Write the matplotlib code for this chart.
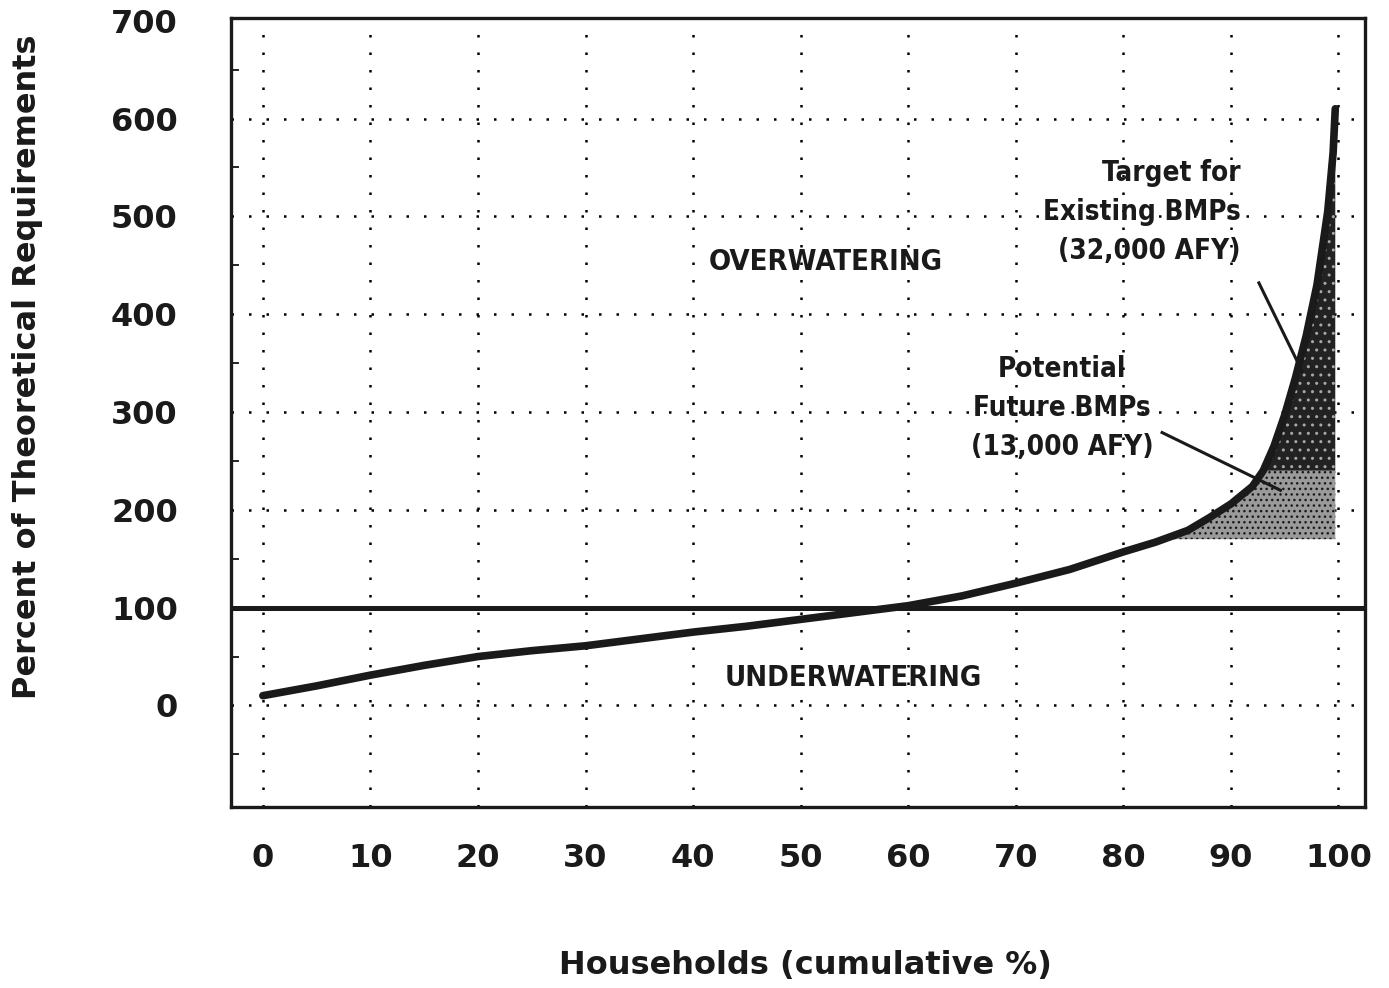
import matplotlib.pyplot as plt
import numpy as np

# data
households = [0, 5, 10, 15, 20, 25, 30, 35, 40, 45, 50, 55, 60, 65, 70, 75,
              80, 83, 86, 88, 90, 92, 93, 94, 95, 96, 97, 98, 99, 99.5, 99.7]
pct_req = [10, 20, 31, 41, 50, 56, 61, 68, 75, 81, 88, 95, 102, 112, 125, 139,
           157, 167, 179, 192, 206, 224, 240, 265, 297, 335, 378, 430, 505, 565, 610]

x_ticks = [0, 10, 20, 30, 40, 50, 60, 70, 80, 90, 100]
y_ticks = [0, 100, 200, 300, 400, 500, 600, 700]

future_low = 170     # bottom of "Potential Future BMPs" band
existing_low = 240   # bottom of "Target for Existing BMPs" band

hh = np.array(households, dtype=float)
pr = np.array(pct_req, dtype=float)

fig = plt.figure(figsize=(13.89, 9.88), dpi=100)
ax = fig.add_axes([0.166, 0.183, 0.817, 0.799])

ax.set_xlim(-3.0, 102.5)
ax.set_ylim(-104, 703)

# dotted grid
for xv in x_ticks:
    ax.axvline(xv, color='black', lw=1.8, ls=(0, (1, 6)), zorder=1)
for yv in y_ticks[:-1]:
    ax.axhline(yv, color='black', lw=1.8, ls=(0, (1, 6)), zorder=1)

# 100% reference line
ax.axhline(100, color='#1a1a1a', lw=3.6, zorder=3)

# stippled savings bands
ax.fill_between(hh, future_low, np.minimum(pr, existing_low), where=pr >= future_low,
                interpolate=True, facecolor='#9a9a9a', edgecolor='#1a1a1a',
                hatch='...', linewidth=0, zorder=2)
ax.fill_between(hh, existing_low, pr, where=pr >= existing_low,
                interpolate=True, facecolor='#222222', edgecolor='#a8a8a8',
                hatch='..', linewidth=0, zorder=2)

# cumulative curve
ax.plot(hh, pr, color='#1a1a1a', lw=5.5, solid_capstyle='round', zorder=4)

cond = dict(fontweight='bold', family='DejaVu Sans', fontstretch='condensed',
            color='#1a1a1a')
ax.text(52.3, 453, 'OVERWATERING', ha='center', va='center', fontsize=21, **cond)
ax.text(54.9, 28, 'UNDERWATERING', ha='center', va='center', fontsize=21, **cond)
ax.text(90.9, 504, 'Target for\nExisting BMPs\n(32,000 AFY)', ha='right', va='center',
        multialignment='right', fontsize=20, linespacing=1.5, **cond)
ax.text(74.3, 304, 'Potential\nFuture BMPs\n(13,000 AFY)', ha='center', va='center',
        multialignment='center', fontsize=20, linespacing=1.5, **cond)

# leader lines
ax.plot([92.6, 96.6], [432, 342], color='#1a1a1a', lw=2.2, zorder=5)
ax.plot([83.6, 94.6], [279, 220], color='#1a1a1a', lw=2.2, zorder=5)

ax.set_xticks(x_ticks)
ax.set_yticks(y_ticks)
ax.set_xticklabels([str(v) for v in x_ticks])
ax.set_yticklabels([str(v) for v in y_ticks])
ax.tick_params(axis='both', which='major', length=0, labelsize=23, colors='#1a1a1a')
ax.tick_params(axis='x', pad=26)
ax.tick_params(axis='y', pad=38)
for lab in ax.get_xticklabels() + ax.get_yticklabels():
    lab.set_fontweight('bold')

ax.set_yticks([-50, 50, 150, 250, 350, 450, 550, 650], minor=True)
ax.tick_params(axis='y', which='minor', direction='in', length=6, width=1.2)
ax.tick_params(axis='x', which='minor', length=0)

for s in ax.spines.values():
    s.set_linewidth(2.4)
    s.set_color('#1a1a1a')

fig.text(0.580, 1 - 965 / 988, 'Households (cumulative %)', ha='center', va='center',
         fontsize=23, fontweight='bold', color='#1a1a1a')
fig.text(28 / 1389, 1 - 367 / 988, 'Percent of Theoretical Requirements', ha='center',
         va='center', rotation=90, fontsize=23, fontweight='bold', color='#1a1a1a')

plt.savefig('out.png', dpi=100)
